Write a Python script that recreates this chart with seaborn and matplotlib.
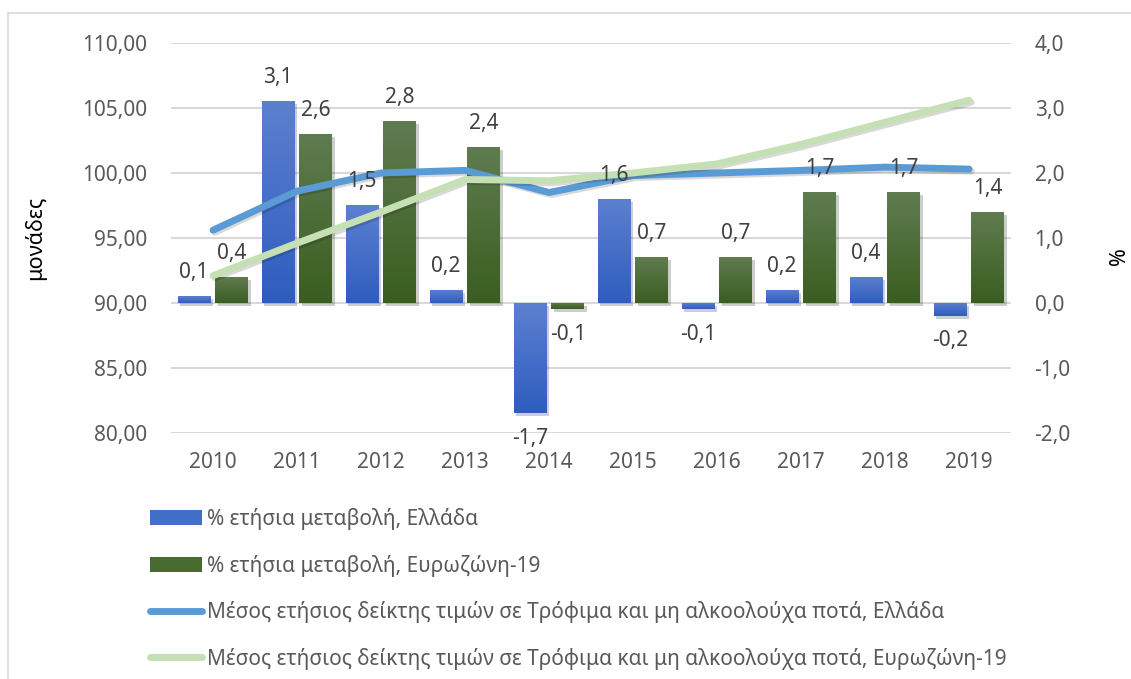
import numpy as np
import pandas as pd
import matplotlib
matplotlib.use("Agg")
import matplotlib.pyplot as plt
import matplotlib.patheffects as pe
from matplotlib.lines import Line2D
from matplotlib.patches import Patch
from matplotlib.colors import LinearSegmentedColormap
import seaborn as sns

years = ["2010", "2011", "2012", "2013", "2014", "2015", "2016", "2017", "2018", "2019"]
gr_change = [0.1, 3.1, 1.5, 0.2, -1.7, 1.6, -0.1, 0.2, 0.4, -0.2]
ez_change = [0.4, 2.6, 2.8, 2.4, -0.1, 0.7, 0.7, 1.7, 1.7, 1.4]
gr_index = [95.6, 98.6, 100.0, 100.2, 98.5, 99.8, 100.0, 100.2, 100.45, 100.3]
ez_index = [92.1, 94.6, 97.0, 99.5, 99.4, 100.0, 100.7, 102.2, 103.9, 105.6]

lab_gr_bar = "% ετήσια μεταβολή, Ελλάδα"
lab_ez_bar = "% ετήσια μεταβολή, Ευρωζώνη-19"
lab_gr_line = "Μέσος ετήσιος δείκτης τιμών σε Τρόφιμα και μη αλκοολούχα ποτά, Ελλάδα"
lab_ez_line = "Μέσος ετήσιος δείκτης τιμών σε Τρόφιμα και μη αλκοολούχα ποτά, Ευρωζώνη-19"
left_ticks = [80, 85, 90, 95, 100, 105, 110]
right_ticks = [-2, -1, 0, 1, 2, 3, 4]

C_BLUE_BAR = "#4170C8"
C_GREEN_BAR = "#486B30"
BLUE_GRAD = ("#2F5DBF", "#5C80D0")   # bottom, top
GREEN_GRAD = ("#3A5E20", "#5F7C50")
C_BLUE_LINE = "#5B9BD5"
C_GREEN_LINE = "#C5E0B4"
C_TEXT = "#595959"
C_GRID = "#D9D9D9"
FS = 15

sns.set_style("white")
plt.rcParams["font.family"] = ["Noto Sans", "DejaVu Sans"]

fig = plt.figure(figsize=(11.31, 6.79), dpi=100)
ax = fig.add_axes([0.1512, 0.3623, 0.7427, 0.5744])
ax2 = ax.twinx()
ax.set_zorder(ax2.get_zorder() + 1)
ax.patch.set_visible(False)

# bars (right axis)
df_bars = pd.DataFrame({
    "year": years * 2,
    "value": gr_change + ez_change,
    "series": [lab_gr_bar] * len(years) + [lab_ez_bar] * len(years),
})
sns.barplot(data=df_bars, x="year", y="value", hue="series", ax=ax2,
            palette=[C_BLUE_BAR, C_GREEN_BAR], width=0.9, gap=0.13,
            legend=False, saturation=1, zorder=3, linewidth=0, edgecolor="none")
ax2.set_ylim(-2, 4)
ax2.set_xlim(-0.5, len(years) - 0.5)

nb = len(years)
grad = np.linspace(0, 1, 64).reshape(-1, 1)
cm_blue = LinearSegmentedColormap.from_list("b", BLUE_GRAD)
cm_green = LinearSegmentedColormap.from_list("g", GREEN_GRAD)
bars = list(ax2.patches[:2 * nb])
for i, p in enumerate(bars):
    p.set_path_effects([pe.SimplePatchShadow(offset=(2, -2), alpha=0.22), pe.Normal()])
    x0 = p.get_x()
    x1 = x0 + p.get_width()
    y0 = min(p.get_y(), p.get_y() + p.get_height())
    y1 = max(p.get_y(), p.get_y() + p.get_height())
    im = ax2.imshow(grad, extent=[x0, x1, y0, y1], origin="lower", aspect="auto",
                    cmap=cm_blue if i < nb else cm_green, zorder=3.5,
                    interpolation="bilinear")
    im.set_clip_path(p)
ax2.set_ylim(-2, 4)
ax2.set_xlim(-0.5, len(years) - 0.5)

# lines (left axis)
xpos = np.arange(len(years))
df_lines = pd.DataFrame({
    "x": np.concatenate([xpos, xpos]),
    "value": gr_index + ez_index,
    "series": [lab_gr_line] * len(years) + [lab_ez_line] * len(years),
})
sns.lineplot(data=df_lines, x="x", y="value", hue="series", ax=ax,
             palette=[C_BLUE_LINE, C_GREEN_LINE], linewidth=5, legend=False,
             solid_capstyle="round", solid_joinstyle="round")
for ln in ax.lines:
    ln.set_path_effects([pe.SimpleLineShadow(offset=(1.5, -1.5), alpha=0.15), pe.Normal()])

ax.set_xlim(-0.5, len(years) - 0.5)
ax.set_ylim(80, 110)
ax.set_yticks(left_ticks)
ax.set_yticklabels([f"{v:.2f}".replace(".", ",") for v in left_ticks])
ax2.set_yticks(right_ticks)
ax2.set_yticklabels([f"{v:.1f}".replace(".", ",") for v in right_ticks])
ax.set_xticks(xpos)
ax.set_xticklabels(years)
ax.set_xlabel("")
ax2.set_xlabel("")
ax.set_ylabel("")
ax2.set_ylabel("")

for a in (ax, ax2):
    for s in a.spines.values():
        s.set_visible(False)
ax.tick_params(axis="both", length=0, labelsize=FS, labelcolor=C_TEXT)
ax.tick_params(axis="y", pad=17)
ax.tick_params(axis="x", pad=14)
ax2.tick_params(axis="y", length=0, labelsize=FS, labelcolor=C_TEXT, pad=17)

ax.grid(False)
ax2.grid(False)
for t in right_ticks:
    ax2.axhline(t, color=C_GRID, linewidth=1.5, zorder=1)

# data labels (drawn on the top axes)
vals = gr_change + ez_change
for i, p in enumerate(bars):
    val = vals[i]
    cx = p.get_x() + p.get_width() / 2
    off = 17 if val >= 0 else -18
    ax.annotate(f"{val:.1f}".replace(".", ","), xy=(cx, val), xycoords=ax2.transData,
                xytext=(0, off), textcoords="offset points", ha="center", va="center",
                fontsize=FS, color="#404040", zorder=10)

# axis titles
fig.text(35 / 1131, 1 - 238 / 679, "μονάδες", rotation=90, ha="center", va="center",
         fontsize=15.5, color="#000000")
fig.text(1119 / 1131, 1 - 256 / 679, "%", rotation=90, ha="center", va="center",
         fontsize=15.5, color="#000000", fontweight="bold")

# legend
handles = [
    Patch(facecolor=C_BLUE_BAR, edgecolor="none"),
    Patch(facecolor=C_GREEN_BAR, edgecolor="none"),
    Line2D([0], [0], color=C_BLUE_LINE, linewidth=5, solid_capstyle="round"),
    Line2D([0], [0], color=C_GREEN_LINE, linewidth=5, solid_capstyle="round"),
]
leg = fig.legend(handles, [lab_gr_bar, lab_ez_bar, lab_gr_line, lab_ez_line],
                 loc="upper left", bbox_to_anchor=(150 / 1131, 1 - 508 / 679),
                 frameon=False, fontsize=FS, handlelength=2.5, handletextpad=0.25,
                 labelspacing=1.18, borderaxespad=0, borderpad=0)
for t in leg.get_texts():
    t.set_color(C_TEXT)

# chart border
fig.add_artist(Line2D([8 / 1131, 1], [1 - 13 / 679, 1 - 13 / 679], color="#D9D9D9",
                      linewidth=1.2, transform=fig.transFigure))
fig.add_artist(Line2D([8 / 1131, 8 / 1131], [0, 1 - 13 / 679], color="#D9D9D9",
                      linewidth=1.2, transform=fig.transFigure))

fig.savefig("out.png", dpi=100)
